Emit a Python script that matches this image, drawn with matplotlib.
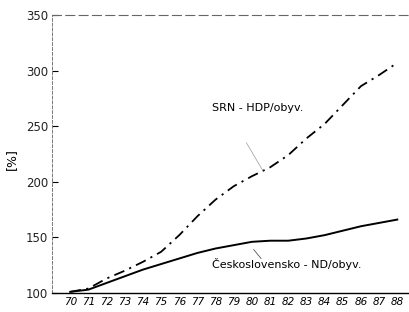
import numpy as np
import matplotlib.pyplot as plt

# roky a hodnoty (1970 = 100 %)
roky = np.arange(70, 89)
srn_hdp = [101, 104, 113, 120, 128, 137, 152, 169, 184, 196, 205, 213, 224, 239, 252, 269, 286, 296, 307]
cs_nd = [101, 103, 109, 115, 121, 126, 131, 136, 140, 143, 146, 147, 147, 149, 152, 156, 160, 163, 166]
y_ticks = [100, 150, 200, 250, 300, 350]

fig = plt.figure(figsize=(4.1, 3.12), dpi=100)
ax = fig.add_axes([0.127, 0.061, 0.873, 0.891])

ax.plot(roky, srn_hdp, color="black", linewidth=1.3, linestyle=(0, (6, 3, 1.2, 3)))
ax.plot(roky, cs_nd, color="black", linewidth=1.4)

ax.set_xlim(69.0, 88.7)
ax.set_ylim(100, 350)
ax.set_xticks(roky)
ax.set_xticklabels([str(r) for r in roky], fontsize=7.5, style="italic")
ax.set_yticks(y_ticks)
ax.set_yticklabels([str(v) for v in y_ticks], fontsize=8.5, color="#222222")
ax.tick_params(axis="x", length=0, pad=3)
ax.tick_params(axis="y", direction="in", length=4, width=0.8, pad=3)

ax.spines["right"].set_visible(False)
ax.spines["top"].set_linestyle((0, (8, 4)))
ax.spines["top"].set_color("#666666")
ax.spines["top"].set_linewidth(0.8)
ax.spines["left"].set_linestyle((0, (3, 2)))
ax.spines["left"].set_color("#777777")
ax.spines["left"].set_linewidth(0.7)
ax.spines["bottom"].set_linewidth(1.0)

ax.set_ylabel("[%]", fontsize=9)
ax.yaxis.set_label_coords(-0.095, 0.48)

# popisky krivek
ax.text(80.3, 266, "SRN - HDP/obyv.", fontsize=8, ha="center", va="center")
ax.plot([79.7, 80.6], [235, 210], color="#999999", linewidth=0.5)
ax.text(81.9, 126, "Československo - ND/obyv.", fontsize=8, ha="center", va="center")
ax.plot([80.1, 80.5], [139, 131], color="#555555", linewidth=0.6)

fig.savefig("out.png", dpi=100)
